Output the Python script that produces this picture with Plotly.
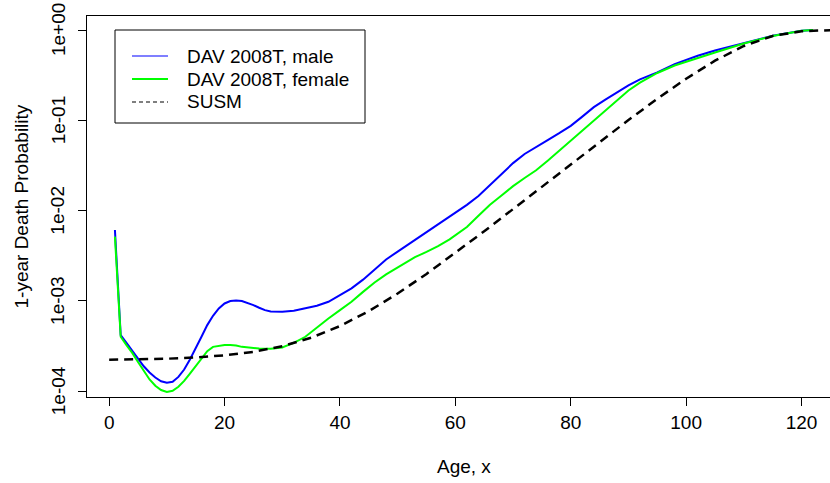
import math
import plotly.graph_objects as go

# ---------------- data ----------------
age_male = [1, 2, 3, 4, 5, 6, 7, 8, 9, 10, 11, 12, 13, 14, 15, 16, 17, 18, 19, 20,
            21, 22, 23, 24, 25, 26, 27, 28, 30, 32, 34, 36, 38, 40, 42, 44, 46, 48,
            50, 52, 54, 56, 58, 60, 62, 64, 66, 68, 70, 72, 74, 76, 78, 80, 82, 84,
            86, 88, 90, 92, 95, 98, 100, 102, 105, 110, 115, 120, 122]
q_male = [6.1e-3, 4.18e-4, 3.44e-4, 2.85e-4, 2.30e-4, 1.89e-4, 1.61e-4, 1.42e-4,
          1.29e-4, 1.24e-4, 1.27e-4, 1.44e-4, 1.74e-4, 2.25e-4, 2.97e-4, 4.01e-4,
          5.40e-4, 6.85e-4, 8.26e-4, 9.38e-4, 9.96e-4, 1.013e-3, 9.96e-4, 9.54e-4,
          8.99e-4, 8.40e-4, 7.91e-4, 7.65e-4, 7.58e-4, 7.78e-4, 8.26e-4, 8.84e-4,
          9.79e-4, 1.15e-3, 1.38e-3, 1.72e-3, 2.25e-3, 2.88e-3,
          3.52e-3, 4.3e-3, 5.2e-3, 6.3e-3, 7.8e-3, 9.4e-3, 0.0116, 0.0145, 0.0193,
          0.0258, 0.0336, 0.0424, 0.051, 0.0605, 0.0721, 0.087, 0.110, 0.140,
          0.170, 0.205, 0.244, 0.285, 0.34, 0.42, 0.47, 0.52, 0.594, 0.72, 0.865,
          0.983, 1.0]

age_female = [1, 2, 3, 4, 5, 6, 7, 8, 9, 10, 11, 12, 13, 14, 15, 16, 17, 18, 19, 20,
              21, 22, 23, 24, 26, 28, 30, 31, 32, 34, 36, 38, 40, 42, 44, 46, 48, 50,
              53, 55, 57, 59, 61, 62, 64, 66, 68, 70, 72, 74, 76, 78, 80, 82, 84, 86,
              88, 90, 92, 95, 98, 100, 102, 105, 110, 115, 120, 122]
q_female = [5.15e-3, 4.01e-4, 3.24e-4, 2.66e-4, 2.11e-4, 1.67e-4, 1.35e-4, 1.15e-4,
            1.03e-4, 9.8e-5, 1.01e-4, 1.12e-4, 1.30e-4, 1.57e-4, 1.91e-4, 2.34e-4,
            2.78e-4, 3.10e-4, 3.21e-4, 3.26e-4, 3.26e-4, 3.21e-4, 3.10e-4, 3.05e-4,
            2.97e-4, 2.95e-4, 3.05e-4, 3.24e-4, 3.44e-4, 4.01e-4, 5.08e-4, 6.40e-4,
            7.9e-4, 9.8e-4, 1.26e-3, 1.6e-3, 1.97e-3, 2.36e-3,
            3.05e-3, 3.5e-3, 4.05e-3, 4.8e-3, 5.95e-3, 6.6e-3, 8.8e-3, 0.0116,
            0.0147, 0.0187, 0.023, 0.028, 0.0358, 0.0462, 0.060, 0.0774, 0.0993, 0.128,
            0.166, 0.214, 0.262, 0.335, 0.405, 0.447, 0.49, 0.565, 0.71, 0.862, 0.982,
            1.0]

age_susm = [0, 5, 10, 15, 20, 25, 30, 35, 40, 45, 50, 55, 60, 65, 70, 75, 80, 85,
            90, 95, 100, 105, 110, 115, 120, 125, 130]
q_susm = [2.23e-4, 2.25e-4, 2.29e-4, 2.37e-4, 2.50e-4, 2.73e-4, 3.15e-4, 3.91e-4,
          5.27e-4, 7.71e-4, 1.208e-3, 1.992e-3, 3.397e-3, 5.913e-3, 0.01041, 0.01843,
          0.03265, 0.05764, 0.1009, 0.1735, 0.2895, 0.4582, 0.6669, 0.8609, 0.9709,
          0.9983, 1.0]

x_ticks = [0, 20, 40, 60, 80, 100, 120]
y_ticks = [1e-4, 1e-3, 1e-2, 1e-1, 1.0]
y_tick_text = ["1e-04", "1e-03", "1e-02", "1e-01", "1e+00"]

series_names = ["DAV 2008T, male", "DAV 2008T, female", "SUSM"]

# ---------------- figure ----------------
W, H = 830, 483
L, T, B, R = 87, 16, 86, 0
PW, PH = W - L - R, H - T - B
FONT = "Liberation Sans, Arial, sans-serif"


def px_x(p):
    return (p - L) / PW


def px_y(p):
    return (H - B - p) / PH


fig = go.Figure()
fig.add_trace(go.Scatter(x=age_male, y=q_male, mode="lines", name=series_names[0],
                         line=dict(color="#0000FF", width=2)))
fig.add_trace(go.Scatter(x=age_female, y=q_female, mode="lines", name=series_names[1],
                         line=dict(color="#00FF00", width=2)))
fig.add_trace(go.Scatter(x=age_susm, y=q_susm, mode="lines", name=series_names[2],
                         line=dict(color="black", width=2.5, dash="9px,6px")))

shapes = []
annotations = []

# legend box
shapes.append(dict(type="rect", xref="paper", yref="paper",
                   x0=px_x(115), x1=px_x(365), y0=px_y(123), y1=px_y(30),
                   line=dict(color="black", width=1), fillcolor="white", layer="above"))
leg_styles = [dict(color="#0000FF", width=1.2), dict(color="#00FF00", width=2),
              dict(color="black", width=1.2, dash="4px,3px")]
for i, (name, st) in enumerate(zip(series_names, leg_styles)):
    yy = 56 + 23 * i
    shapes.append(dict(type="line", xref="paper", yref="paper",
                       x0=px_x(132), x1=px_x(168), y0=px_y(yy), y1=px_y(yy),
                       line=st, layer="above"))
    annotations.append(dict(text=name, xref="paper", yref="paper", x=px_x(185),
                            y=px_y(yy), xanchor="left", yanchor="middle",
                            showarrow=False, font=dict(size=19, color="black", family=FONT)))

# y tick labels (rotated, R style), placed at the tick values on the log axis
for v, t in zip(y_ticks, y_tick_text):
    annotations.append(dict(text=t, xref="paper", yref="y", x=px_x(58), y=math.log10(v),
                            xanchor="center", yanchor="middle", textangle=-90,
                            showarrow=False, font=dict(size=19, color="black", family=FONT)))

annotations.append(dict(text="Age, x", xref="paper", yref="paper", x=px_x(464),
                        y=px_y(466), xanchor="center", yanchor="middle",
                        showarrow=False, font=dict(size=19, color="black", family=FONT)))
annotations.append(dict(text="1-year Death Probability", xref="paper", yref="paper",
                        x=px_x(21), y=0.5, xanchor="center", yanchor="middle",
                        textangle=-90, showarrow=False,
                        font=dict(size=19, color="black", family=FONT)))

fig.update_layout(
    width=W, height=H,
    margin=dict(l=L, r=R, t=T, b=B, pad=0),
    paper_bgcolor="white", plot_bgcolor="white",
    showlegend=False,
    font=dict(family=FONT, size=19, color="black"),
    shapes=shapes, annotations=annotations,
    xaxis=dict(range=[-3.84, 124.93], tickvals=x_ticks, ticks="outside", ticklen=8,
               tickcolor="black", showline=True, mirror=True, linecolor="black",
               linewidth=1, showgrid=False, zeroline=False,
               tickfont=dict(size=19, family=FONT, color="black")),
    yaxis=dict(type="log", range=[-4.064, 0.156], tickvals=y_ticks,
               showticklabels=False, ticks="outside", ticklen=8, tickcolor="black",
               showline=True, linecolor="black", linewidth=1, showgrid=False,
               zeroline=False),
)

fig.write_html("out.html")
